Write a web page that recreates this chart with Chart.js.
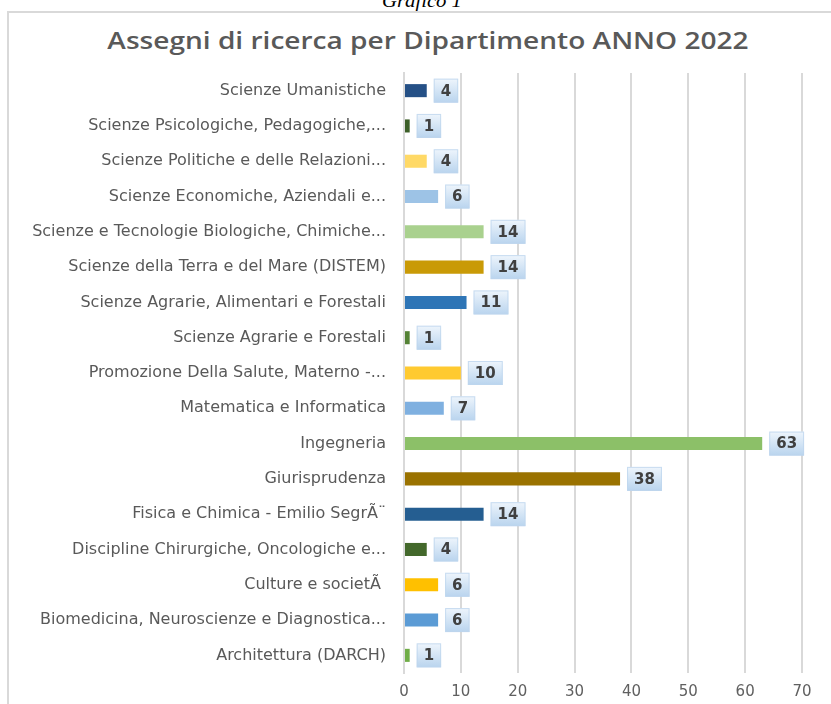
<!DOCTYPE html>
<html>
<head>
<meta charset="utf-8">
<script src="https://cdn.jsdelivr.net/npm/chart.js@4/dist/chart.umd.min.js"></script>
<style>
  html, body { margin: 0; padding: 0; background: #fff; width: 831px; height: 704px; overflow: hidden; }
  #wrap { position: relative; width: 831px; height: 704px; }
  #caption { position: absolute; top: -9px; left: 0; width: 844px; text-align: center;
    font-family: "Liberation Serif", serif; font-style: italic; font-size: 18px; color: #000;
    transform: scaleX(1.15); transform-origin: 422px 0; }
  #frame { position: absolute; left: 7px; top: 11px; width: 900px; height: 800px;
    border-left: 2px solid #d9d9d9; border-top: 2px solid #d9d9d9; }
  #title { position: absolute; top: 24px; left: 0; width: 856px; text-align: center;
    font-family: "Open Sans", sans-serif; font-weight: 600; font-size: 23px; color: #595959;
    transform: scaleX(1.22); transform-origin: 428px 0; }
  canvas { position: absolute; left: 0; top: 0; }
</style>
</head>
<body>
<div id="wrap">
  <div id="caption">Grafico 1</div>
  <div id="frame"></div>
  <div id="title">Assegni di ricerca per Dipartimento ANNO 2022</div>
  <canvas id="c" width="831" height="704"></canvas>
</div>
<script>
const categories = [
  "Scienze Umanistiche",
  "Scienze Psicologiche, Pedagogiche,...",
  "Scienze Politiche e delle Relazioni...",
  "Scienze Economiche, Aziendali e...",
  "Scienze e Tecnologie Biologiche, Chimiche...",
  "Scienze della Terra e del Mare (DISTEM)",
  "Scienze Agrarie, Alimentari e Forestali",
  "Scienze Agrarie e Forestali",
  "Promozione Della Salute, Materno -...",
  "Matematica e Informatica",
  "Ingegneria",
  "Giurisprudenza",
  "Fisica e Chimica - Emilio Segr\u00C3\u00A8",
  "Discipline Chirurgiche, Oncologiche e...",
  "Culture e societ\u00C3\u00A0",
  "Biomedicina, Neuroscienze e Diagnostica...",
  "Architettura (DARCH)"
];
const values = [4, 1, 4, 6, 14, 14, 11, 1, 10, 7, 63, 38, 14, 4, 6, 6, 1];
const xTicks = [0, 10, 20, 30, 40, 50, 60, 70];
const barColors = [
  "#255086", "#3C5F28", "#FFD966", "#9DC3E6", "#A9D18E", "#C99A06",
  "#2E75B6", "#548235", "#FFCA30", "#7FB0E0", "#8CC068", "#9A7200",
  "#255E91", "#43682B", "#FFC000", "#5B9BD5", "#70AD47"
];

const labelPlugin = {
  id: 'valueBoxes',
  afterDatasetsDraw(chart) {
    const ctx = chart.ctx;
    const meta = chart.getDatasetMeta(0);
    ctx.save();
    ctx.font = 'bold 15px "DejaVu Sans", sans-serif';
    meta.data.forEach((bar, i) => {
      const txt = String(chart.data.datasets[0].data[i]);
      const tw = ctx.measureText(txt).width;
      const w = tw + 14, h = 24;
      const x0 = bar.x + 7, y0 = bar.y - h / 2;
      const g = ctx.createLinearGradient(0, y0, 0, y0 + h);
      g.addColorStop(0, '#eef5fc');
      g.addColorStop(1, '#b9d4ee');
      ctx.fillStyle = g;
      ctx.fillRect(x0, y0, w, h);
      ctx.strokeStyle = 'rgba(190,214,238,0.8)';
      ctx.lineWidth = 1;
      ctx.strokeRect(x0 + 0.5, y0 + 0.5, w - 1, h - 1);
      ctx.fillStyle = '#404040';
      ctx.textAlign = 'center';
      ctx.textBaseline = 'middle';
      ctx.fillText(txt, x0 + w / 2, bar.y + 1);
    });
    ctx.restore();
  }
};

new Chart(document.getElementById('c'), {
  type: 'bar',
  data: {
    labels: categories,
    datasets: [{
      data: values,
      backgroundColor: barColors,
      borderWidth: 0,
      categoryPercentage: 1,
      barPercentage: 0.37
    }]
  },
  options: {
    indexAxis: 'y',
    responsive: false,
    animation: false,
    devicePixelRatio: 1,
    layout: { padding: { left: 0, right: 29, top: 73, bottom: 0 } },
    plugins: { legend: { display: false }, title: { display: false }, tooltip: { enabled: false } },
    scales: {
      x: {
        min: 0, max: 70,
        afterBuildTicks(scale) { scale.ticks = xTicks.map(v => ({ value: v })); },
        afterFit(scale) { scale.height = 31; },
        grid: { color: '#d9d9d9', lineWidth: 2, drawTicks: false },
        border: { display: false },
        ticks: { color: '#606060', font: { family: 'DejaVu Sans', size: 15 }, padding: 10 }
      },
      y: {
        afterFit(scale) { scale.width = 404; },
        grid: { display: false, drawTicks: false },
        border: { display: true, color: '#d9d9d9', width: 2 },
        ticks: { color: '#595959', font: { family: 'DejaVu Sans', size: 16 }, padding: 18, autoSkip: false }
      }
    }
  },
  plugins: [labelPlugin]
});
</script>
</body>
</html>
